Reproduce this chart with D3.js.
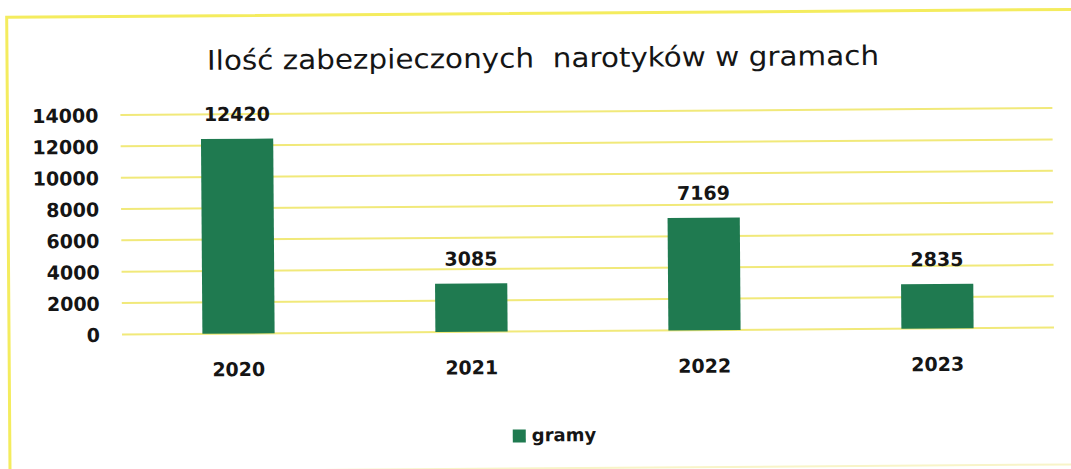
<!DOCTYPE html>
<meta charset="utf-8">
<style>
body { margin: 0; background: #fff; }
svg { display: block; }
.grid line { stroke: #f1e97a; stroke-width: 2px; }
.lbl { font-family: "DejaVu Sans", sans-serif; font-weight: bold; fill: #151515; }
</style>
<body>
<script src="https://d3js.org/d3.v7.min.js"></script>
<script>

var years = ["2020", "2021", "2022", "2023"];
var grams = [12420, 3085, 7169, 2835];
var yTicks = [0, 2000, 4000, 6000, 8000, 10000, 12000, 14000];
var title = "Ilość zabezpieczonych  narotyków w gramach";
var seriesName = "gramy";

var width = 1071,
    height = 469;

var svg = d3.select("body").append("svg")
    .attr("width", width)
    .attr("height", height);

// the scan is tilted a little
var g = svg.append("g")
    .attr("transform", "rotate(-0.42,588,331)");

// frame: top and left clear, bottom hardly visible
g.append("path")
    .attr("d", "M9,470V13H1085")
    .attr("fill", "none")
    .attr("stroke", "#f4ec5e")
    .attr("stroke-width", 3);
g.append("line")
    .attr("x1", 9).attr("x2", 1085)
    .attr("y1", 468).attr("y2", 468)
    .attr("stroke", "#f8f4c8")
    .attr("stroke-width", 2);

var x = d3.scaleBand()
    .domain(years)
    .range([122, 1054])
    .paddingInner(0.69)
    .paddingOuter(0.345);

var y = d3.scaleLinear()
    .domain([0, 14000])
    .range([331, 111.5]);

g.append("g")
    .attr("class", "grid")
  .selectAll("line")
  .data(yTicks)
  .enter().append("line")
    .attr("x1", 122).attr("x2", 1054)
    .attr("y1", function(d) { return y(d); })
    .attr("y2", function(d) { return y(d); });

var yAxis = g.append("g")
    .attr("transform", "translate(100,0)")
    .call(d3.axisLeft(y).tickValues(yTicks).tickFormat(d3.format("d")).tickSize(0).tickPadding(0));
yAxis.select(".domain").remove();
yAxis.selectAll("text")
    .attr("class", "lbl")
    .attr("font-size", 19)
    .attr("dy", "0.36em");

g.append("g")
  .selectAll("rect")
  .data(grams)
  .enter().append("rect")
    .attr("x", function(d, i) { return x(years[i]); })
    .attr("y", function(d) { return y(d); })
    .attr("width", x.bandwidth())
    .attr("height", function(d) { return y(0) - y(d); })
    .attr("fill", "#1f7a50");

g.append("g")
  .selectAll("text")
  .data(grams)
  .enter().append("text")
    .attr("class", "lbl")
    .attr("font-size", 19)
    .attr("text-anchor", "middle")
    .attr("x", function(d, i) { return x(years[i]) + x.bandwidth() / 2; })
    .attr("y", function(d) { return y(d) - 18; })
    .text(function(d) { return d; });

var xAxis = g.append("g")
    .attr("transform", "translate(0,360)")
    .call(d3.axisBottom(x).tickSize(0).tickPadding(0));
xAxis.select(".domain").remove();
xAxis.selectAll("text")
    .attr("class", "lbl")
    .attr("font-size", 19)
    .attr("dy", "0.71em");

g.append("text")
    .attr("x", 545)
    .attr("y", 67)
    .attr("text-anchor", "middle")
    .attr("font-family", "DejaVu Sans, sans-serif")
    .attr("font-size", 27)
    .attr("fill", "#151515")
    .attr("textLength", 672)
    .attr("lengthAdjust", "spacingAndGlyphs")
    .style("white-space", "pre")
    .text(title);

var legend = g.append("g").attr("transform", "translate(512,429)");
legend.append("rect")
    .attr("width", 13).attr("height", 13)
    .attr("fill", "#1f7a50");
legend.append("text")
    .attr("class", "lbl")
    .attr("font-size", 18)
    .attr("x", 19)
    .attr("y", 12)
    .text(seriesName);

</script>
</body>
